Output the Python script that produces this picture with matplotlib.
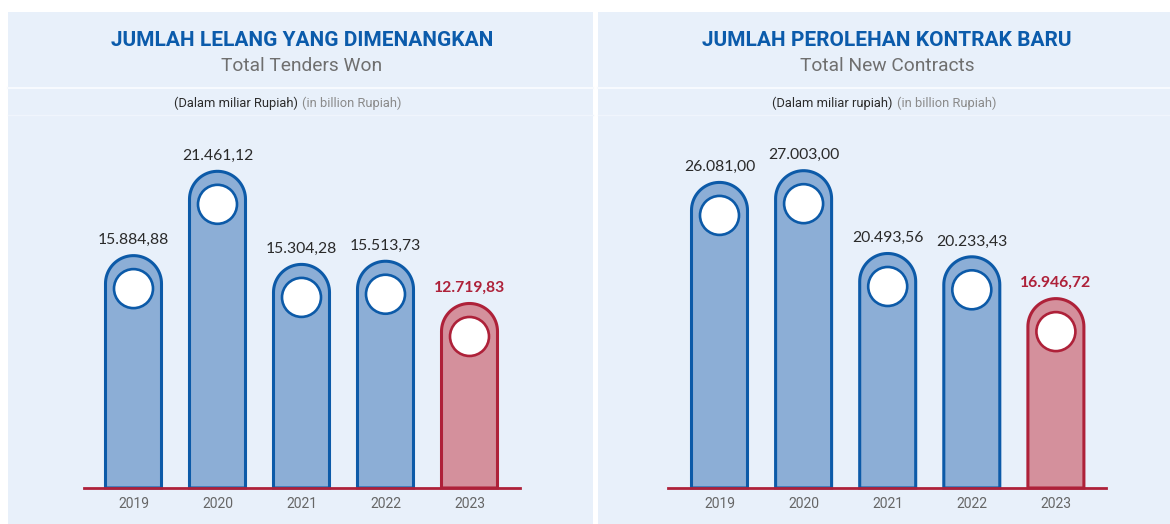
import matplotlib.pyplot as plt
from matplotlib.patches import Ellipse, PathPatch, Rectangle
from matplotlib.path import Path
import numpy as np

W, H = 1170, 524

years = ["2019", "2020", "2021", "2022", "2023"]
tenders_won = [15884.88, 21461.12, 15304.28, 15513.73, 12719.83]
tenders_labels = ["15.884,88", "21.461,12", "15.304,28", "15.513,73", "12.719,83"]
new_contracts = [26081.00, 27003.00, 20493.56, 20233.43, 16946.72]
contracts_labels = ["26.081,00", "27.003,00", "20.493,56", "20.233,43", "16.946,72"]

BG = "#e8f0fa"
BLUE_EDGE = "#0c5aa8"
BLUE_FILL = "#8caed6"
RED_EDGE = "#ae2139"
RED_FILL = "#d4909c"
TITLE_BLUE = "#0b5bab"


def draw_panel(fig, left, right, cx, split, title, subtitle, unit_id):
    bg = fig.add_axes([0, 0, 1, 1], zorder=0)
    bg.set_xlim(0, W)
    bg.set_ylim(H, 0)
    bg.axis("off")
    bg.add_patch(Rectangle((left, 12), right - left, H - 12, facecolor=BG, edgecolor="none"))
    bg.plot([left, right], [88, 88], color="#f7fafe", lw=1.5)
    bg.plot([left, right], [115, 115], color="#f0f5fc", lw=1.0)
    bg.text(cx, 40, title, ha="center", va="center", fontsize=15,
            fontweight="bold", color=TITLE_BLUE, family="Roboto")
    bg.text(cx, 66, subtitle, ha="center", va="center", fontsize=13.8,
            color="#6f6f6f", family="Roboto")
    bg.text(split - 2, 103, unit_id, ha="right", va="center", fontsize=9.3,
            color="#2b2b2b", family="Roboto")
    bg.text(split + 2, 103, "(in billion Rupiah)", ha="left", va="center",
            fontsize=9.3, color="#8a8a8a", family="Roboto")


def draw_bars(fig, x0, x1, first_center, step, v0, slope, values, labels):
    base_px = 488
    ax_h = 340
    ax = fig.add_axes([x0 / W, (H - base_px) / H, (x1 - x0) / W, ax_h / H], zorder=2)
    ax.set_xlim((x0 - first_center) / step, (x1 - first_center) / step)
    ax.set_ylim(v0, v0 + ax_h / slope)
    ax.patch.set_alpha(0)
    for s in ax.spines.values():
        s.set_visible(False)
    ax.set_yticks([])

    ypp = 1 / slope  # data units per pixel
    xpp = 1 / step
    hw = 28 * xpp
    ry = 28 * ypp
    t = np.linspace(np.pi, 0, 40)
    for i, v in enumerate(values):
        last = i == len(values) - 1
        edge = RED_EDGE if last else BLUE_EDGE
        fill = RED_FILL if last else BLUE_FILL
        cy = v - ry
        verts = [(i - hw, v0), (i - hw, cy)]
        verts += list(zip(i + hw * np.cos(t), cy + ry * np.sin(t)))
        verts += [(i + hw, v0), (i - hw, v0)]
        codes = [Path.MOVETO] + [Path.LINETO] * (len(verts) - 2) + [Path.CLOSEPOLY]
        ax.add_patch(PathPatch(Path(verts, codes), facecolor=fill, edgecolor=edge,
                               lw=2.2, clip_on=False, zorder=2))
        ax.add_patch(Ellipse((i, v - 33 * ypp), 2 * 19.5 * xpp, 2 * 19.5 * ypp,
                             facecolor="white", edgecolor=edge, lw=1.9,
                             clip_on=False, zorder=3))
        ax.annotate(labels[i], (i, v), xytext=(0, 6), textcoords="offset points",
                    ha="center", va="bottom", fontsize=11.3,
                    color=RED_EDGE if last else "#2a2a2a",
                    fontweight="bold" if last else "normal",
                    family="Lato", annotation_clip=False)
    ax.axhline(v0, color=RED_EDGE, lw=2, zorder=4, clip_on=False)
    ax.set_xticks(range(len(values)))
    ax.set_xticklabels(years, fontsize=10, color="#666666", family="Roboto")
    ax.tick_params(axis="x", length=0, pad=6.5)
    return ax


fig = plt.figure(figsize=(W / 100, H / 100), dpi=100)
fig.patch.set_facecolor("white")

draw_panel(fig, 8, 593, 302, 300, "JUMLAH LELANG YANG DIMENANGKAN",
           "Total Tenders Won", "(Dalam miliar Rupiah)")
draw_panel(fig, 598, 1170, 887, 895, "JUMLAH PEROLEHAN KONTRAK BARU",
           "Total New Contracts", "(Dalam miliar rupiah)")

draw_bars(fig, 84, 520, 133.5, 84, 516, 0.01512, tenders_won, tenders_labels)
draw_bars(fig, 668, 1106, 719.5, 84.1, 2060, 0.012722, new_contracts, contracts_labels)

fig.savefig("out.png", dpi=100, facecolor="white")
